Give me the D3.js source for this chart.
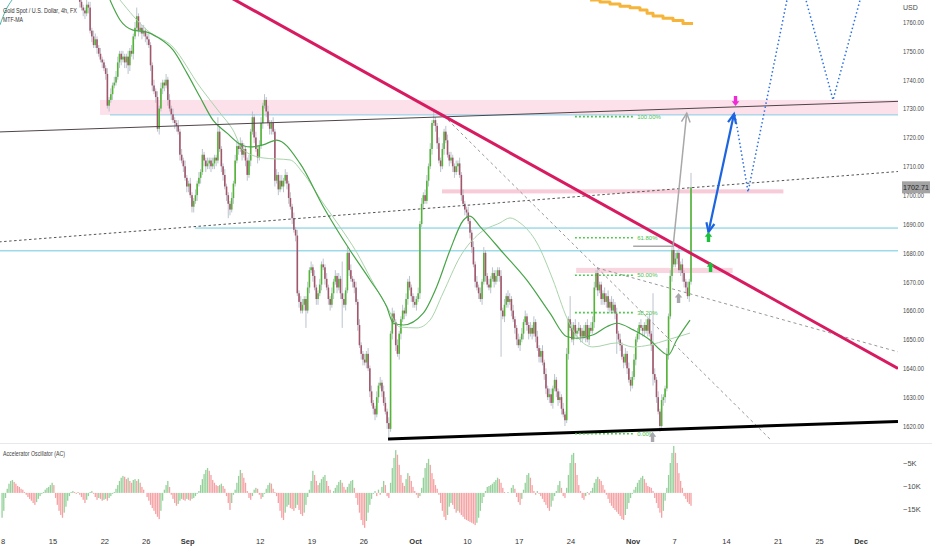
<!DOCTYPE html>
<html><head><meta charset="utf-8">
<script src="https://cdn.jsdelivr.net/npm/d3@7/dist/d3.min.js"></script>
<style>
html,body{margin:0;padding:0;background:#fff;}
svg{display:block;font-family:"Liberation Sans",Arial,sans-serif;}
</style></head><body>
<svg id="chart" width="932" height="550"></svg>
<script>
// ---------------- DATA ----------------
// x in trading-day index (0 = Aug 8 2022, weekdays only), y in USD
const dayTicks   = [0,5,10,14,18,25,30,35,40,45,50,55,61,65,70,75,79,83];
const dayLabels  = ["8","15","22","26","Sep","12","19","26","Oct","10","17","24","Nov","7","14","21","25","Dec"];
const monthNames = ["Sep","Oct","Nov","Dec"];
const priceTicks = [1620,1630,1640,1650,1660,1670,1680,1690,1700,1710,1720,1730,1740,1750,1760];
const oscTicks      = [-5,-10,-15];
const oscTickLabels = ["\u22125K","\u221210K","\u221215K"];

// 4h candles, six per trading day, starting at day 7 (Aug 17)
const firstCandleDay = 7;
const openBeforeFirst = 1778;
const closes = [
 [1776,1774,1771,1767,1765,1764],[1763,1766,1765,1757,1755,1752],[1754,1751,1749,1747,1746,1744],
 [1742,1731,1733,1735,1738,1739],[1741,1746,1749,1747,1748,1746],[1748,1745,1750,1749,1755,1758],
 [1762,1757,1758,1756,1757,1755],[1754,1752,1745,1738,1736,1734],[1723,1730,1737,1739,1738,1740],
 [1733,1730,1728,1726,1725,1724],[1722,1714,1712,1710,1706,1703],[1704,1700,1696,1698,1700,1704],
 [1706,1708,1714,1712,1710,1711],[1712,1710,1711,1713,1712,1722],[1716,1710,1707,1703,1700,1697],
 [1695,1699,1704,1712,1717,1716],[1718,1714,1716,1712,1707,1712],[1722,1727,1720,1716,1713,1717],
 [1725,1731,1733,1729,1725,1723],[1725,1722,1705,1707,1702,1705],[1703,1705,1707,1704,1699,1696],
 [1692,1688,1686,1666,1663,1660],[1662,1664,1660,1668,1674,1675],[1672,1668,1664,1666,1669,1676],
 [1675,1671,1668,1664,1662,1666],[1670,1672,1668,1671,1666,1664],[1662,1667,1680,1674,1671,1670],
 [1668,1663,1655,1648,1645,1643],[1642,1645,1640,1632,1628,1626],[1624,1630,1634,1635,1632,1628],
 [1625,1621,1619,1652,1659,1656],[1648,1645,1652,1657,1660,1659],[1664,1670,1668,1665,1663,1662],
 [1664,1666,1690,1697,1700,1698],[1705,1710,1716,1725,1726,1724],[1718,1712,1710,1716,1722,1719],
 [1714,1712,1713,1710,1708,1710],[1711,1707,1700,1697,1695,1694],[1691,1687,1682,1676,1670,1668],
 [1666,1664,1670,1680,1672,1669],[1668,1671,1673,1670,1672,1674],[1672,1660,1658,1662,1665,1663],
 [1664,1660,1657,1654,1650,1648],[1650,1652,1656,1658,1655,1652],[1654,1652,1656,1651,1647,1644],
 [1646,1642,1638,1633,1630,1631],[1628,1633,1636,1632,1629,1630],[1626,1624,1622,1645,1657,1654],
 [1650,1655,1652,1653,1654,1651],[1653,1651,1655,1650,1654,1653],[1656,1668,1673,1667,1669,1664],
 [1666,1663,1665,1661,1663,1660],[1662,1659,1652,1650,1648,1644],[1642,1645,1640,1636,1634,1637],
 [1643,1650,1652,1655,1654,1653],[1655,1653,1657,1652,1648,1638],[1636,1630,1625,1620,1629,1630],
 [1633,1645,1658,1672,1681,1676],[1678,1680,1674,1676,1673,1670],[1668,1665,1670,1702.71]
];
const wickUp = [
 [2,1,2,1,2,1],[1,2,1,2,1,2],[2,1,1,2,1,1],[1,2,1,2,1,2],[2,2,1,1,2,1],[1,2,1,2,1,2],
 [3,1,2,1,2,1],[1,2,1,1,2,1],[2,1,2,1,1,2],[1,2,1,2,1,1],[2,1,2,1,2,1],[1,2,1,1,2,1],
 [2,1,2,1,1,2],[1,1,2,1,1,5],[2,1,1,2,1,1],[1,2,1,2,2,1],[2,1,2,1,1,2],[1,2,1,2,1,2],
 [2,1,2,1,2,1],[1,2,1,2,1,2],[2,1,2,1,1,2],[1,2,1,2,1,2],[2,1,1,2,1,2],[1,2,1,1,2,1],
 [2,1,2,1,1,2],[1,2,1,2,1,11],[2,1,2,1,2,1],[1,2,1,2,1,1],[2,1,2,1,2,1],[1,2,1,2,1,2],
 [2,1,2,1,2,1],[1,2,1,1,2,1],[2,1,2,1,1,2],[1,2,1,2,1,2],[2,1,2,1,3,1],[1,2,1,2,1,2],
 [2,1,2,1,1,2],[1,2,1,2,1,1],[2,1,1,2,1,2],[1,2,1,2,1,1],[2,1,2,1,2,1],[1,2,1,2,1,2],
 [2,1,2,1,1,2],[1,2,1,2,1,1],[2,1,2,1,2,1],[1,2,1,2,1,2],[2,1,2,1,1,2],[1,2,1,2,1,8],
 [2,1,2,1,2,1],[1,2,1,2,1,2],[2,2,1,2,1,1],[1,2,1,2,1,2],[2,1,2,1,2,1],[1,2,1,2,1,2],
 [2,1,2,1,2,1],[1,2,1,2,1,18],[2,1,2,1,2,1],[1,2,1,2,1,2],[2,1,2,1,2,1],[1,2,1,5]
];
const wickDn = [
 [1,2,1,2,1,2],[2,1,2,1,2,1],[1,2,1,1,2,1],[2,1,2,1,2,1],[1,1,2,2,1,2],[2,3,2,1,2,1],
 [1,2,1,2,1,2],[2,1,2,2,1,2],[1,2,1,2,2,1],[2,1,2,1,2,2],[1,2,1,2,1,2],[2,1,2,2,1,2],
 [1,2,1,2,2,1],[2,2,1,2,2,1],[1,2,2,1,2,5],[2,1,2,1,1,2],[1,2,1,2,2,1],[2,1,2,1,2,1],
 [1,2,1,2,1,2],[2,1,2,1,2,1],[1,2,1,2,2,1],[2,1,2,1,2,1],[1,2,6,1,2,1],[2,1,2,2,1,2],
 [1,2,1,2,2,1],[2,1,2,1,2,10],[1,2,1,2,1,2],[2,1,2,1,2,2],[1,2,1,2,1,2],[2,1,2,1,2,1],
 [1,2,3,1,2,1],[2,1,2,2,1,2],[1,2,1,2,2,1],[2,1,2,1,2,1],[1,2,1,2,1,2],[2,1,2,1,2,1],
 [1,2,1,2,2,1],[2,1,2,1,2,2],[1,2,2,1,2,1],[2,1,2,1,2,1],[1,2,1,2,1,2],[2,16,1,2,1,2],
 [1,2,1,2,2,1],[2,1,2,1,2,2],[1,2,1,2,1,2],[2,1,2,2,1,2],[1,2,1,2,2,1],[2,1,2,1,2,1],
 [1,2,1,2,1,2],[2,1,2,1,2,1],[1,2,1,2,1,2],[2,1,2,1,2,1],[1,2,7,1,2,1],[2,1,2,1,2,1],
 [1,2,1,2,1,2],[2,1,2,1,2,4],[1,2,1,2,1,2],[2,1,2,1,2,1],[1,2,1,2,3,2],[2,1,2,1]
];
// Accelerator Oscillator (thousands), six per day from day 0
const acValues = [
 [-5.4,-3.9,-1.1,0.9,2.0,2.6],[2.8,2.4,2.0,1.5,1.3,0.9],[0.7,0.2,-0.4,-0.9,-1.3,-1.7],
 [-2.2,-2.6,-2.0,-1.3,-0.7,-0.2],[0.2,0.7,1.1,1.3,1.7,2.2],[1.7,-1.1,-2.6,-3.9,-4.8,-5.4],
 [-4.3,-3.0,-1.7,-0.7,0.2,0.4],[0.2,-0.2,0.2,-0.4,-0.9,-1.5],[-2.2,-1.5,-0.7,0.2,0.4,-0.2],
 [-0.9,-1.5,-1.1,-1.3,-1.7,-1.5],[-1.3,-1.7,-1.1,-0.7,-0.2,0.2],[0.9,1.7,2.6,3.3,3.7,3.5],
 [3.0,3.3,2.6,2.2,2.8,3.0],[2.6,3.0,2.2,1.3,0.7,0],[-0.9,-1.7,-2.6,-3.3,-3.9,-4.6],
 [-5.2,-5.7,-3.9,-1.7,0.7,1.7],[2.6,1.3,-0.4,-1.3,-2.2,-2.8],[-2.4,-1.7,-1.3,-1.5,-1.7,-1.3],
 [-1.5,-1.7,-1.3,-1.1,-0.7,-0.2],[0.4,1.7,3.0,4.1,5.0,5.4],[4.8,3.9,2.8,2.2,1.7,1.5],
 [1.7,2.0,1.5,0.9,-0.7,-2.2],[-3.7,-2.2,-0.4,0.7,2.2,3.7],[5.0,4.3,3.3,2.2,0.4,-1.1],
 [-1.5,-0.7,0.7,1.1,0.9,-0.4],[-1.3,-0.9,-0.2,0.9,1.7,2.2],[2.0,0.9,0.2,-0.7,-2.2,-3.9],
 [-5.4,-5.9,-4.3,-3.0,-2.6,-3.3],[-3.5,-3.9,-3.3,-2.6,-3.7,-4.6],[-5.0,-4.3,-2.6,-0.9,0.7,2.6],
 [4.8,3.9,2.6,1.7,2.2,3.0],[3.5,3.9,2.6,1.5,0.7,0],[0.4,1.1,1.7,2.4,2.8,2.2],
 [1.3,0.7,1.3,2.0,2.6,2.8],[1.1,-1.1,-2.6,-4.3,-5.9,-7.0],[-7.6,-6.1,-4.3,-2.6,-1.3,-0.2],
 [0.4,-0.7,0.7,-0.4,1.3,2.6],[1.7,-0.7,-1.1,2.2,5.4,7.6],[9.3,8.3,6.1,3.9,2.2,1.5],
 [3.0,4.3,3.7,2.6,1.3,0.4],[-0.4,-1.1,-0.7,1.1,3.3,5.4],[6.5,7.4,6.1,4.3,3.0,1.7],
 [0.9,-0.4,-2.2,-3.9,-5.2,-5.9],[-4.8,-3.0,-2.2,-2.6,-3.5,-4.3],[-3.9,-4.3,-4.8,-5.2,-5.7,-5.9],
 [-6.1,-6.3,-6.5,-6.7,-7.0,-6.5],[-5.4,-3.9,-2.2,-0.9,0.4,1.3],[1.5,1.7,2.0,2.4,2.8,3.3],
 [3.0,2.2,1.1,0.2,0,0.2],[0,1.1,1.7,0.9,-0.9,-2.0],[-2.6,-1.3,0.7,2.2,3.9,4.3],
 [3.3,1.7,0.4,-0.4,0.4,-0.2],[-0.7,-1.3,-2.0,-2.6,-3.3,-3.9],[-3.0,-1.7,-0.7,0.4,1.7,2.6],
 [1.1,-0.7,-1.1,1.1,3.9,6.5],[8.3,8.7,6.5,3.9,1.7,0.4],[-1.1,-1.5,-0.7,0.2,-0.4,0.4],
 [1.1,2.2,3.0,3.5,3.0,2.6],[1.7,0.7,-0.4,-1.3,-2.2,-2.8],[-3.3,-3.7,-4.1,-4.6,-5.0,-5.7],
 [-5.9,-4.8,-3.5,-2.2,-1.1,-0.2],[0.7,1.3,2.2,2.8,3.3,3.7],[3.0,2.2,1.5,1.3,1.1,0.4],
 [-1.1,-2.2,-3.3,-4.3,-5.4,-3.9],[-1.7,1.1,3.9,6.5,8.7,10.2],[8.7,6.5,4.3,2.6,1.1,-0.7],
 [-1.3,-2.0,-2.4,-2.8]
];
const acZeroLevel = -11.5;

// MTF-MA lines  [day, price]
const maFast = [[10.5,1767.6],[11.47,1760.7],[12.72,1757.2],[14.07,1756.5],[15.04,1754.8],[16.58,1750.3],
 [17.93,1742.3],[19.19,1734.0],[20.44,1726.0],[21.8,1721.5],[22.86,1718.1],[24.02,1716.7],[25.27,1717.4],
 [26.59,1719.1],[28.84,1711.0],[31.09,1696.0],[33.67,1680.9],[35.6,1670.6],[37.21,1661.3],[37.85,1655.6],
 [38.81,1655.0],[40.74,1659.1],[42.04,1668.3],[43.32,1680.9],[44.61,1691.3],[45.25,1692.7],[46.22,1689.1],
 [48.47,1679.9],[50.72,1670.6],[52.97,1659.1],[54.58,1651.0],[55.55,1650.4],[57.15,1651.6],[58.45,1654.4],
 [59.41,1655.6],[61.01,1653.3],[62.62,1649.8],[63.59,1646.4],[64.39,1644.6],[65.2,1649.8],[66.49,1656.7]];
const maSlow = [[11.47,1767.6],[14.07,1757.2],[16.58,1751.3],[19.19,1737.5],[21.12,1728.5],[22.37,1722.6],
 [23.34,1715.7],[25.27,1712.9],[27.88,1712.2],[29.13,1707.7],[31.06,1697.3],[32.7,1689.0],[34.34,1680.0],
 [35.6,1671.6],[37.24,1661.3],[38.49,1654.3],[40.14,1654.0],[41.39,1656.7],[42.65,1666.1],[44.29,1678.6],
 [46.22,1686.9],[48.15,1690.4],[49.11,1692.1],[50.08,1690.4],[51.72,1683.4],[53.26,1670.6],[54.61,1657.4],
 [55.87,1649.8],[57.12,1647.4],[59.44,1648.8],[60.98,1647.4],[62.63,1648.1],[64.27,1649.8],[66.49,1652.2]];
const maEarly = [[-0.12,1759.0],[0.46,1764.2],[1.04,1767.6]];
const dailyMaSteps = [[56.84,1767.6],[57.8,1766.9],[58.76,1766.2],[59.73,1765.5],[60.7,1764.9],[61.66,1764.2],
 [62.34,1763.0],[62.92,1762.1],[63.88,1761.3],[64.85,1760.5],[65.81,1759.5],[66.78,1759.5]];

// drawings  [day, price]
const zones = [
 {d:[9.54,90], p:[1733.0,1727.8], fill:"#fce1ea"},
 {d:[42.55,75.5], p:[1702.0,1700.6], fill:"#f7cbd8"},
 {d:[55.5,70.6], p:[1674.8,1673.0], fill:"#f9d5df"}
];
const levelLines = [
 {p:1727.8, from:10.5, color:"#86cce6"},
 {p:1688.6, from:18.7, color:"#6cc8e0"},
 {p:1680.7, from:-1, color:"#6cc8e0"}
];
const trendLines = [
 {pts:[[-0.2,1721.9],[86.6,1732.5]], color:"#4f4449", w:1, dash:null},
 {pts:[[-0.2,1683.8],[86.6,1708.2]], color:"#555", w:1, dash:"2.5,2.5"},
 {pts:[[43.13,1726.0],[74.2,1615.5]], color:"#8c8c8c", w:0.9, dash:"3,3"},
 {pts:[[57.51,1674.8],[86.56,1645.7]], color:"#8c8c8c", w:0.9, dash:"3,3"},
 {pts:[[22.28,1768.2],[86.56,1639.95]], color:"#d81b60", w:3, dash:null},
 {pts:[[37.34,1615.5],[86.56,1621.6]], color:"#000", w:3, dash:null}
];
const fibRange = {d:[55.4,61.0], p0:1617.3, p1:1727.2};
const fibLevels = [1, 0.618, 0.5, 0.382, 0];
const fibLabels = ["100.00%","61.80%","50.00%","38.20%","0.00%"];
const measuredBase = [[61.0,1682.3],[64.85,1682.3]];
const measuredMove = [[64.85,1682.0],[66.17,1728.4]];
const blueArrow = [[68.27,1687.2],[70.73,1728.1]];
const projection1 = [[70.83,1727.8],[72.09,1701.1],[75.98,1770]];
const projection2 = [[77.5,1770],[80.29,1733.0],[83.08,1770]];
const markers = [
 {d:62.87, p:1617.9, dir:1, color:"#a9a9ad"},
 {d:65.38, p:1666.1, dir:1, color:"#a9a9ad"},
 {d:68.27, p:1687.2, dir:1, color:"#19c23a"},
 {d:68.47, p:1676.8, dir:1, color:"#19c23a"},
 {d:70.88, p:1730.9, dir:-1, color:"#ee2bd6"}
];

// ---------------- CHART ----------------
const svg = d3.select("#chart");
const plotR = 898, paneBottom = 443;
const x = d3.scaleLinear().domain([0,83]).range([1.2, 1.2+83*10.36]);
const y = d3.scaleLinear().domain([1620,1760]).range([426,22]);
const yOsc = d3.scaleLinear().domain([-15,-5]).range([509,463]);

svg.append("rect").attr("width",932).attr("height",550).attr("fill","#fff");
const defs = svg.append("defs");
defs.append("clipPath").attr("id","pc").append("rect").attr("x",0).attr("y",0).attr("width",plotR).attr("height",paneBottom);
defs.append("clipPath").attr("id","oc").append("rect").attr("x",0).attr("y",paneBottom+1).attr("width",plotR).attr("height",90);

const gP = svg.append("g").attr("clip-path","url(#pc)");
const line = d3.line().x(d=>x(d[0])).y(d=>y(d[1]));

// zones
gP.selectAll("rect.zone").data(zones).join("rect").attr("class","zone")
  .attr("x",d=>x(d.d[0])).attr("width",d=>Math.min(x(d.d[1]),plotR)-x(d.d[0]))
  .attr("y",d=>y(d.p[0])).attr("height",d=>y(d.p[1])-y(d.p[0])).attr("fill",d=>d.fill);

// level lines
gP.selectAll("line.lvl").data(levelLines).join("line").attr("class","lvl")
  .attr("x1",d=>x(d.from)).attr("x2",plotR).attr("y1",d=>y(d.p)).attr("y2",d=>y(d.p))
  .attr("stroke",d=>d.color).attr("stroke-width",1);

// candles
const candles = [];
let prev = openBeforeFirst;
closes.forEach((row,di)=>row.forEach((c,k)=>{
  const o = prev;
  candles.push({t:firstCandleDay+di+(k+0.5)/6, o, c,
    h:Math.max(o,c)+wickUp[di][k], l:Math.min(o,c)-wickDn[di][k]});
  prev = c;
}));
const gC = gP.append("g");
gC.selectAll("line.wick").data(candles).join("line").attr("class","wick")
  .attr("x1",d=>x(d.t)).attr("x2",d=>x(d.t)).attr("y1",d=>y(d.h)).attr("y2",d=>y(d.l))
  .attr("stroke","#b3bcc8").attr("stroke-width",0.9);
gC.selectAll("rect.body").data(candles).join("rect").attr("class","body")
  .attr("x",d=>x(d.t)-0.8).attr("width",1.6)
  .attr("y",d=>y(Math.max(d.o,d.c))).attr("height",d=>Math.max(0.9,Math.abs(y(d.o)-y(d.c))))
  .attr("fill",d=>d.c>=d.o?"#52b535":"#a3566a");

// MA lines
const smooth = d3.line().curve(d3.curveMonotoneX).x(d=>x(d[0])).y(d=>y(d[1]));
gP.append("path").attr("d",smooth(maSlow)).attr("fill","none").attr("stroke","#a9d4aa").attr("stroke-width",1);
gP.append("path").attr("d",smooth(maFast)).attr("fill","none").attr("stroke","#47a447").attr("stroke-width",1.2);
gP.append("path").attr("d",smooth(maEarly)).attr("fill","none").attr("stroke","#4db6ac").attr("stroke-width",1);
gP.append("path").attr("d",d3.line().curve(d3.curveStepAfter).x(d=>x(d[0])).y(d=>y(d[1]))(dailyMaSteps))
  .attr("fill","none").attr("stroke","#f6b53a").attr("stroke-width",3).attr("stroke-linejoin","round");

// trend lines
gP.selectAll("path.tl").data(trendLines).join("path").attr("class","tl")
  .attr("d",d=>line(d.pts)).attr("fill","none").attr("stroke",d=>d.color)
  .attr("stroke-width",d=>d.w).attr("stroke-dasharray",d=>d.dash);

// fib
const fibP = f => fibRange.p0 + f*(fibRange.p1-fibRange.p0);
gP.selectAll("line.fib").data(fibLevels).join("line").attr("class","fib")
  .attr("x1",x(fibRange.d[0])).attr("x2",x(fibRange.d[1]))
  .attr("y1",f=>y(fibP(f))).attr("y2",f=>y(fibP(f)))
  .attr("stroke","#2cc42c").attr("stroke-width",1.6).attr("stroke-dasharray","1.6,2.4");
gP.selectAll("text.fib").data(fibLevels).join("text").attr("class","fib")
  .attr("x",x(fibRange.d[1])+4).attr("y",f=>y(fibP(f))).attr("dy","0.35em")
  .attr("font-size",6).attr("fill","#4cbf4c").text((f,i)=>fibLabels[i]);

// arrow helpers
function head(p1,p2,len,ang){
  const a = Math.atan2(p2[1]-p1[1], p2[0]-p1[0]);
  const w1 = [p2[0]-len*Math.cos(a-ang), p2[1]-len*Math.sin(a-ang)];
  const w2 = [p2[0]-len*Math.cos(a+ang), p2[1]-len*Math.sin(a+ang)];
  return `M${w1[0]},${w1[1]}L${p2[0]},${p2[1]}L${w2[0]},${w2[1]}`;
}
const px = d => [x(d[0]), y(d[1])];

// measured move (grey)
gP.append("path").attr("d",line(measuredBase)).attr("stroke","#a8a8a8").attr("stroke-width",1.5).attr("fill","none");
gP.append("path").attr("d",line(measuredMove)).attr("stroke","#a8a8a8").attr("stroke-width",1.5).attr("fill","none");
gP.append("path").attr("d",head(px(measuredMove[0]),px(measuredMove[1]),10,0.45))
  .attr("stroke","#a8a8a8").attr("stroke-width",1.5).attr("fill","none");

// blue projections
gP.selectAll("path.proj").data([projection1,projection2]).join("path").attr("class","proj")
  .attr("d",d=>line(d)).attr("fill","none").attr("stroke","#2a6fe0").attr("stroke-width",1.5)
  .attr("stroke-dasharray","1.5,2.5");
gP.append("path").attr("d",line(blueArrow)).attr("stroke","#1c64e0").attr("stroke-width",2.2).attr("fill","none");
gP.append("path").attr("d",head(px(blueArrow[0]),px(blueArrow[1]),10,0.42))
  .attr("stroke","#1c64e0").attr("stroke-width",2.2).attr("fill","none");
gP.append("path").attr("d",head(px(blueArrow[1]),px(blueArrow[0]),10,0.42))
  .attr("stroke","#1c64e0").attr("stroke-width",2.2).attr("fill","none");

// block arrow markers
gP.selectAll("path.mk").data(markers).join("path").attr("class","mk")
  .attr("transform",d=>`translate(${x(d.d)},${y(d.p)}) scale(1,${d.dir})`)
  .attr("d","M0,0L3.8,4.6L1.7,4.6L1.7,10L-1.7,10L-1.7,4.6L-3.8,4.6Z")
  .attr("fill",d=>d.color);

// ---------- oscillator ----------
const gO = svg.append("g").attr("clip-path","url(#oc)");
const acBars = [];
let prevAc = null;
acValues.forEach((row,di)=>row.forEach((v,k)=>{
  acBars.push({t:di+(k+0.5)/6, v, up: prevAc===null ? true : v>prevAc});
  prevAc = v;
}));
gO.selectAll("rect.ac").data(acBars).join("rect").attr("class","ac")
  .attr("x",d=>x(d.t)-0.65).attr("width",1.3)
  .attr("y",d=>Math.min(yOsc(acZeroLevel+d.v), yOsc(acZeroLevel)))
  .attr("height",d=>Math.abs(yOsc(acZeroLevel+d.v)-yOsc(acZeroLevel)))
  .attr("fill",d=>d.up?"#96d19b":"#f5a2a4");

// pane separator
svg.append("line").attr("x1",0).attr("x2",932).attr("y1",paneBottom+0.5).attr("y2",paneBottom+0.5)
  .attr("stroke","#e6e8ee").attr("stroke-width",1);

// ---------- axes & texts ----------
const txtCol = "#4a4a4a";
const lastClose = candles[candles.length-1].c;
svg.selectAll("text.pt").data(priceTicks.filter(p=>Math.abs(y(p)-y(lastClose))>6 || p!==1700 ? true : true))
  .join("text").attr("class","pt")
  .attr("x",903).attr("y",d=>y(d)).attr("dy","0.35em").attr("font-size",8)
  .attr("textLength",21).attr("lengthAdjust","spacingAndGlyphs")
  .attr("fill",txtCol).text(d=>d.toFixed(2));

svg.append("rect").attr("x",902).attr("y",y(lastClose)-6).attr("width",28).attr("height",12).attr("fill","#a3a3a3");
svg.append("text").attr("x",916).attr("y",y(lastClose)).attr("dy","0.35em").attr("text-anchor","middle")
  .attr("font-size",7.2).attr("fill","#1e1e1e").text(lastClose.toFixed(2));

svg.append("text").attr("x",903).attr("y",8).attr("dy","0.35em").attr("font-size",7)
  .attr("fill",txtCol).text("USD");

svg.selectAll("text.ot").data(oscTicks).join("text").attr("class","ot")
  .attr("x",903).attr("y",d=>yOsc(d)).attr("dy","0.35em").attr("font-size",7.5)
  .attr("fill",txtCol).text((d,i)=>oscTickLabels[i]);

svg.selectAll("text.tt").data(dayTicks).join("text").attr("class","tt")
  .attr("x",d=>Math.max(x(d),3)).attr("y",541).attr("dy","0.35em").attr("text-anchor","middle")
  .attr("font-size",7.5).attr("fill","#333")
  .attr("font-weight",(d,i)=>monthNames.includes(dayLabels[i])?"bold":"normal")
  .text((d,i)=>dayLabels[i]);

svg.append("text").attr("x",3).attr("y",10).attr("dy","0.35em").attr("font-size",7.5)
  .attr("textLength",74).attr("lengthAdjust","spacingAndGlyphs").attr("fill","#333")
  .text("Gold Spot / U.S. Dollar, 4h, FX");
svg.append("text").attr("x",3).attr("y",19.5).attr("dy","0.35em").attr("font-size",7.5)
  .attr("textLength",20).attr("lengthAdjust","spacingAndGlyphs").attr("fill","#333").text("MTF-MA");
svg.append("text").attr("x",3).attr("y",453.5).attr("dy","0.35em").attr("font-size",7.2)
  .attr("textLength",62).attr("lengthAdjust","spacingAndGlyphs").attr("fill","#444")
  .text("Accelerator Oscillator (AC)");
</script>
</body></html>
